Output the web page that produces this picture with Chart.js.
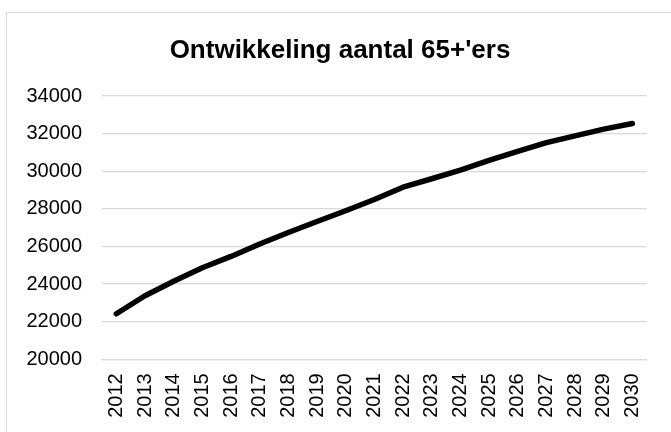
<!DOCTYPE html>
<html>
<head>
<meta charset="utf-8">
<script src="https://cdn.jsdelivr.net/npm/chart.js@4.4.1/dist/chart.umd.min.js"></script>
<style>
  html, body { margin: 0; padding: 0; background: #ffffff; }
  #wrap { position: relative; width: 671px; height: 432px; overflow: hidden; }
  #frame { position: absolute; left: 6px; top: 12px; width: 700px; height: 460px;
           border: 1.5px solid #d9d9d9; box-sizing: border-box; }
  canvas { position: absolute; left: 0; top: 0; }
</style>
</head>
<body>
<div id="wrap">
  <div id="frame"></div>
  <canvas id="c" width="671" height="432"></canvas>
</div>
<script>
const titleText = "Ontwikkeling aantal 65+'ers";
const years = ["2012","2013","2014","2015","2016","2017","2018","2019","2020","2021",
               "2022","2023","2024","2025","2026","2027","2028","2029","2030"];
const aantal65plus = [22420, 23380, 24150, 24870, 25470, 26130, 26740, 27330, 27900, 28500,
                      29150, 29600, 30060, 30580, 31050, 31520, 31880, 32240, 32540];
const yMin = 20000, yMax = 34000, yStep = 2000;

const fontFamily = "'Liberation Sans', Arial, sans-serif";

const titlePlugin = {
  id: 'fixedTitle',
  afterDraw(chart) {
    const ctx = chart.ctx;
    ctx.save();
    ctx.font = "bold 26px " + fontFamily;
    ctx.fillStyle = "#000000";
    ctx.textAlign = "center";
    ctx.textBaseline = "alphabetic";
    ctx.fillText(titleText, 340, 58);
    ctx.restore();
  }
};

new Chart(document.getElementById('c'), {
  type: 'line',
  data: {
    labels: years,
    datasets: [{
      data: aantal65plus,
      borderColor: '#000000',
      borderWidth: 5.5,
      borderCapStyle: 'round',
      borderJoinStyle: 'round',
      pointRadius: 0,
      tension: 0,
      fill: false
    }]
  },
  options: {
    responsive: false,
    animation: false,
    devicePixelRatio: 1,
    layout: { padding: { top: 96, right: 24.3, bottom: 0, left: 0 } },
    plugins: { legend: { display: false }, title: { display: false }, tooltip: { enabled: false } },
    scales: {
      x: {
        offset: true,
        grid: { display: false, drawTicks: false },
        border: { display: true, color: '#d9d9d9', width: 1.3 },
        ticks: {
          minRotation: 90, maxRotation: 90, autoSkip: false,
          padding: 14, color: '#000000',
          font: { family: fontFamily, size: 20 }
        },
        afterFit(scale) { scale.height = 432 - 359.3; scale.paddingLeft = 0; scale.paddingRight = 0; }
      },
      y: {
        min: yMin, max: yMax,
        grid: { color: '#d9d9d9', lineWidth: 1.3, drawTicks: false },
        border: { display: false },
        ticks: {
          stepSize: yStep, padding: 20, color: '#000000',
          font: { family: fontFamily, size: 20 },
          callback: (v) => String(v)
        },
        afterFit(scale) { scale.width = 102; scale.paddingTop = 0; scale.paddingBottom = 0; }
      }
    }
  },
  plugins: [titlePlugin]
});
</script>
</body>
</html>
